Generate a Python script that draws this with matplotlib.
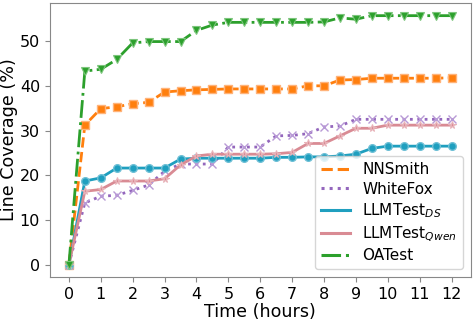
import matplotlib
matplotlib.use("Agg")
import matplotlib.pyplot as plt
from matplotlib.lines import Line2D

hours = [0, 0.5, 1, 1.5, 2, 2.5, 3, 3.5, 4, 4.5, 5, 5.5, 6, 6.5, 7, 7.5, 8, 8.5, 9, 9.5, 10, 10.5, 11, 11.5, 12]

nnsmith = [0, 31.2, 34.9, 35.3, 36.0, 36.3, 38.6, 38.9, 39.1, 39.2, 39.3, 39.3, 39.3, 39.3, 39.3, 40.0, 40.0,
           41.3, 41.4, 41.7, 41.7, 41.7, 41.7, 41.7, 41.8]
whitefox = [0, 13.8, 15.3, 15.5, 16.6, 17.8, 20.9, 22.5, 22.5, 22.5, 26.3, 26.3, 26.3, 28.8, 28.9, 29.3, 30.8,
            31.0, 32.5, 32.5, 32.5, 32.5, 32.5, 32.5, 32.5]
llm_ds = [0, 18.7, 19.4, 21.6, 21.6, 21.6, 21.6, 23.6, 23.8, 23.8, 23.8, 23.8, 23.8, 24.0, 24.0, 24.1, 24.1,
          24.3, 24.7, 26.0, 26.5, 26.5, 26.5, 26.5, 26.5]
llm_qwen = [0, 16.4, 16.8, 18.7, 18.7, 18.7, 19.2, 22.3, 24.3, 24.7, 24.7, 24.7, 24.7, 24.8, 25.1, 27.1, 27.1,
            28.8, 30.5, 30.5, 31.2, 31.2, 31.2, 31.2, 31.2]
oatest = [0, 43.3, 43.7, 45.9, 49.6, 49.9, 49.9, 49.9, 52.4, 53.6, 54.2, 54.2, 54.2, 54.2, 54.2, 54.2, 54.3,
          55.2, 54.9, 55.7, 55.7, 55.7, 55.7, 55.7, 55.7]

names = ["NNSmith", "WhiteFox", "LLMTest$_{DS}$", "LLMTest$_{Qwen}$", "OATest"]
xticks = list(range(0, 13))
yticks = [0, 10, 20, 30, 40, 50]

styles = [
    dict(linestyle="--", color="#ff7f0e", marker="s", markeredgecolor="#ffb37a", markeredgewidth=1),
    dict(linestyle=":", color="#9467bd", marker="x", markeredgecolor="#b89ad6", markeredgewidth=1),
    dict(linestyle="-", color="#1f9fbf", marker="o", markeredgecolor="#6fc0d6", markeredgewidth=1),
    dict(linestyle="-", color="#d98b94", marker="*", markeredgecolor="#e8b3b9", markeredgewidth=0.8),
    dict(linestyle="-.", color="#2ca02c", marker="v", markeredgecolor="#7cc57c", markeredgewidth=0.8),
]
series = [nnsmith, whitefox, llm_ds, llm_qwen, oatest]

fig, ax = plt.subplots(figsize=(4.74, 3.21), dpi=100)

handles = []
for vals, name, st in zip(series, names, styles):
    ax.plot(hours, vals, linewidth=2, markersize=5.5, **st)
    handles.append(Line2D([], [], color=st["color"], linestyle=st["linestyle"], linewidth=2.2, label=name))

ax.set_xticks(xticks)
ax.set_yticks(yticks)
ax.tick_params(labelsize=11.5, color="#888888")
ax.set_xlabel("Time (hours)", fontsize=12.6, labelpad=1)
ax.set_ylabel("Line Coverage (%)", fontsize=12.6, labelpad=1)
for s in ax.spines.values():
    s.set_color("#888888")

ax.legend(handles=handles, loc="lower right", fontsize=11, handlelength=1.9, borderpad=0.4,
          labelspacing=0.3, handletextpad=0.8, framealpha=0.8)

fig.subplots_adjust(left=0.105, right=0.993, top=0.99, bottom=0.137)
fig.savefig("out.png", dpi=100)
